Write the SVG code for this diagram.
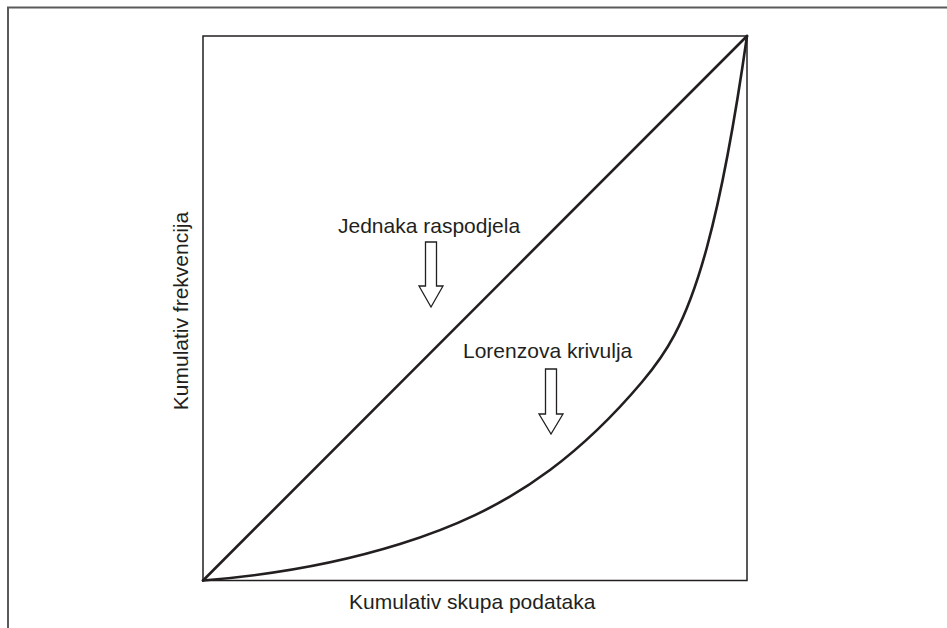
<svg xmlns="http://www.w3.org/2000/svg" width="947" height="628" viewBox="0 0 947 628">
<style>
.frame{fill:none;stroke:#5a5a5a;stroke-width:2}
.box{fill:none;stroke:#231f20;stroke-width:1.5}
.curve{fill:none;stroke:#231f20;stroke-width:2.6;stroke-linecap:round;stroke-linejoin:round}
.arrow{fill:#ffffff;stroke:#231f20;stroke-width:1.3;stroke-linejoin:miter}
.lbl{font-family:"Liberation Sans",Arial,sans-serif;font-size:21px;fill:#231f20}
</style>
<rect width="947" height="628" fill="#ffffff"/>
<g id="frame">
<path class="frame" d="M8,628 V7.5 H947"/>
</g>
<g id="plot-box">
<rect class="box" x="203" y="36" width="544" height="544.5"/>
</g>
<g id="connectors">
<path id="equality-line" class="curve" d="M203,580.5 L747,36"/>
<path id="lorenz-curve" class="curve" d="M203,580.5 C268.67,575.25 334.33,564.46 400,544 C450,528.42 500,507.23 550,470 C580.67,447.16 611.33,418.29 642,382 C663.67,356.36 685.33,327.01 707,247 C720.33,197.76 733.67,129.33 747,36"/>
<path id="arrow-equal" class="arrow" d="M425.5,242 H436.5 V286 H443 L431,307 L419,286 H425.5 Z"/>
<path id="arrow-lorenz" class="arrow" d="M545.5,369 H556.5 V414 H563 L551,434 L539,414 H545.5 Z"/>
</g>
<g id="label-equal">
<text class="lbl" x="338" y="233">Jednaka raspodjela</text>
</g>
<g id="label-lorenz">
<text class="lbl" x="463" y="358">Lorenzova krivulja</text>
</g>
<g id="x-axis-label">
<text class="lbl" x="349" y="609">Kumulativ skupa podataka</text>
</g>
<g id="y-axis-label">
<text class="lbl" text-anchor="middle" transform="translate(188,311) rotate(-90)">Kumulativ frekvencija</text>
</g>
</svg>
